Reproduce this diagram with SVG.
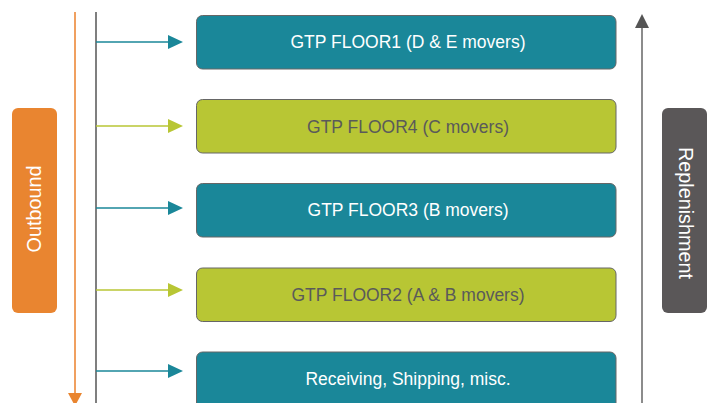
<svg xmlns="http://www.w3.org/2000/svg" width="715" height="403" viewBox="0 0 715 403">
<style>
.box{stroke:#666;stroke-width:1}
.teal{fill:#1a8799}
.lime{fill:#b8c634}
.t{font-family:"Liberation Sans",Arial,sans-serif;font-size:17.5px;text-anchor:middle;dominant-baseline:central}
.r{font-size:19.8px}
.tw{fill:#fff}
.tg{fill:#5a5a5a}
</style>
<rect width="715" height="403" fill="#fff"/>
<g id="connectors">
<line x1="75" y1="12" x2="75" y2="394" stroke="#f0a060" stroke-width="2"/>
<polygon points="68,393 82,393 75,406" fill="#e98530"/>
<line x1="96" y1="12" x2="96" y2="403" stroke="#555" stroke-width="1.5"/>
<line x1="642" y1="26" x2="642" y2="403" stroke="#666" stroke-width="1.5"/>
<polygon points="635,28 649,28 642,14" fill="#555"/>
<line x1="96" y1="42" x2="170" y2="42" stroke="#1a8799" stroke-width="1.5"/>
<polygon points="168,35 183,42 168,49" fill="#1a8799"/>
<line x1="96" y1="126" x2="170" y2="126" stroke="#b8c634" stroke-width="1.5"/>
<polygon points="168,119 183,126 168,133" fill="#b8c634"/>
<line x1="96" y1="208" x2="170" y2="208" stroke="#1a8799" stroke-width="1.5"/>
<polygon points="168,201 183,208 168,215" fill="#1a8799"/>
<line x1="96" y1="290" x2="170" y2="290" stroke="#b8c634" stroke-width="1.5"/>
<polygon points="168,283 183,290 168,297" fill="#b8c634"/>
<line x1="96" y1="371" x2="170" y2="371" stroke="#1a8799" stroke-width="1.5"/>
<polygon points="168,364 183,371 168,378" fill="#1a8799"/>
</g>
<g id="outbound">
<rect x="12" y="108" width="45" height="205" rx="6" fill="#e98530"/>
<text class="t r tw" transform="translate(33.5,209) rotate(-90)">Outbound</text>
</g>
<g id="replenishment">
<rect x="662" y="108" width="45" height="205" rx="6" fill="#5a5758"/>
<text class="t r tw" transform="translate(685.5,213) rotate(90)">Replenishment</text>
</g>
<g id="floor1">
<rect class="box teal" x="196.5" y="15.5" width="419.5" height="53.5" rx="6"/>
<text class="t tw" x="408" y="42">GTP FLOOR1 (D &amp; E movers)</text>
</g>
<g id="floor4">
<rect class="box lime" x="196.5" y="99.5" width="419.5" height="53.5" rx="6"/>
<text class="t tg" x="408" y="127">GTP FLOOR4 (C movers)</text>
</g>
<g id="floor3">
<rect class="box teal" x="196.5" y="183.5" width="419.5" height="53.5" rx="6"/>
<text class="t tw" x="408" y="210">GTP FLOOR3 (B movers)</text>
</g>
<g id="floor2">
<rect class="box lime" x="196.5" y="268" width="419.5" height="53.5" rx="6"/>
<text class="t tg" x="408" y="295">GTP FLOOR2 (A &amp; B movers)</text>
</g>
<g id="receiving">
<rect class="box teal" x="196.5" y="352" width="419.5" height="60" rx="6"/>
<text class="t tw" x="408" y="379">Receiving, Shipping, misc.</text>
</g>
</svg>
